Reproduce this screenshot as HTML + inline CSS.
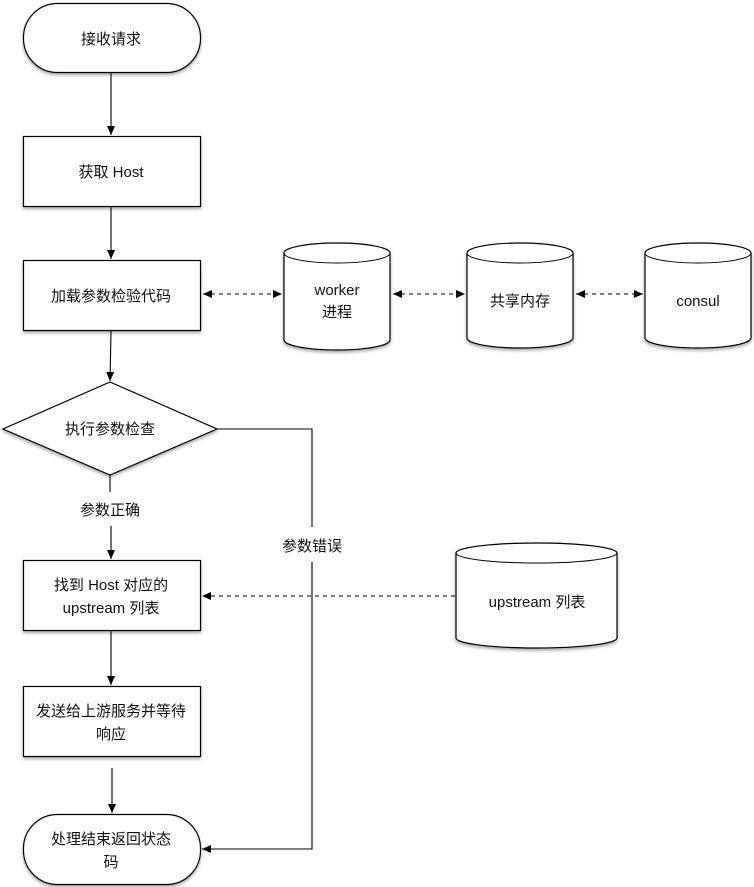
<!DOCTYPE html>
<html><head><meta charset="utf-8"><style>
html,body{margin:0;padding:0;background:#fff;}
svg{display:block;}
text{font-family:"Liberation Sans","Noto Sans CJK SC",sans-serif;font-size:15px;fill:#111;text-anchor:middle;}
</style></head><body>
<svg width="754" height="887" viewBox="0 0 754 887" xmlns="http://www.w3.org/2000/svg">
<defs>
<marker id="a" markerWidth="10" markerHeight="10" refX="9" refY="5" orient="auto" markerUnits="userSpaceOnUse">
<path d="M0,1 L9,5 L0,9 z" fill="#000"/></marker>
<marker id="s" markerWidth="10" markerHeight="10" refX="1" refY="5" orient="auto" markerUnits="userSpaceOnUse">
<path d="M10,1 L1,5 L10,9 z" fill="#000"/></marker>
<filter id="sh" x="-10%" y="-10%" width="130%" height="130%"><feDropShadow dx="0" dy="2" stdDeviation="1.5" flood-color="#000" flood-opacity="0.35"/></filter>
</defs>
<g fill="#fff" stroke="#000" stroke-width="1.2" filter="url(#sh)">
<rect x="23.5" y="3.5" width="177" height="69" rx="34" ry="34"/>
<rect x="23.5" y="136.5" width="177" height="70"/>
<rect x="23.5" y="260.5" width="177" height="70"/>
<path d="M110,382 L217,429 L110,475 L3,429 Z"/>
<rect x="23.5" y="560.5" width="177" height="70"/>
<rect x="23.5" y="686.5" width="177" height="70"/>
<rect x="23.5" y="814.5" width="177" height="70" rx="34" ry="34"/>
</g>
<g fill="#fff" stroke="#000" stroke-width="1.2" filter="url(#sh)">
<path d="M284,253 A53,10 0 0 1 390,253 L390,340 A53,10 0 0 1 284,340 Z"/>
<path d="M467,253 A53,10 0 0 1 573,253 L573,338 A53,10 0 0 1 467,338 Z"/>
<path d="M645,253 A53,10 0 0 1 751,253 L751,338 A53,10 0 0 1 645,338 Z"/>
<path d="M456,553 A80.5,10 0 0 1 617,553 L617,638 A80.5,10 0 0 1 456,638 Z"/>
</g>
<g fill="none" stroke="#000" stroke-width="1">
<path d="M284,253 A53,10 0 0 0 390,253"/>
<path d="M467,253 A53,10 0 0 0 573,253"/>
<path d="M645,253 A53,10 0 0 0 751,253"/>
<path d="M456,553 A80.5,10 0 0 0 617,553"/>
</g>
<g stroke="#000" stroke-width="1.1" fill="none">
<line x1="111" y1="73" x2="111" y2="135" marker-end="url(#a)"/>
<line x1="111" y1="207" x2="111" y2="259" marker-end="url(#a)"/>
<line x1="111" y1="331" x2="110" y2="381" marker-end="url(#a)"/>
<line x1="110" y1="475" x2="110" y2="492"/>
<line x1="111" y1="526" x2="111" y2="559" marker-end="url(#a)"/>
<line x1="111" y1="631" x2="111" y2="685" marker-end="url(#a)"/>
<line x1="112" y1="768" x2="112" y2="813" marker-end="url(#a)"/>
<polyline points="217,429 312,429 312,527"/>
<polyline points="312,562 312,849 202,849" marker-end="url(#a)"/>
<g stroke-dasharray="4,4">
<line x1="203" y1="294" x2="282" y2="294" marker-start="url(#s)" marker-end="url(#a)"/>
<line x1="393" y1="294" x2="465" y2="294" marker-start="url(#s)" marker-end="url(#a)"/>
<line x1="576" y1="294" x2="643" y2="294" marker-start="url(#s)" marker-end="url(#a)"/>
<line x1="455" y1="596" x2="202" y2="596" marker-end="url(#a)"/>
</g>
</g>
<text x="111" y="44">接收请求</text>
<text x="111" y="177">获取 Host</text>
<text x="111" y="301">加载参数检验代码</text>
<text x="110" y="434">执行参数检查</text>
<text x="110" y="515">参数正确</text>
<text x="312" y="551">参数错误</text>
<text x="111" y="590">找到 Host 对应的</text>
<text x="111" y="613">upstream 列表</text>
<text x="111" y="716">发送给上游服务并等待</text>
<text x="111" y="739">响应</text>
<text x="111" y="844">处理结束返回状态</text>
<text x="111" y="867">码</text>
<text x="337" y="295">worker</text>
<text x="337" y="317">进程</text>
<text x="520" y="306">共享内存</text>
<text x="698" y="306">consul</text>
<text x="537" y="607">upstream 列表</text>
</svg>
</body></html>
